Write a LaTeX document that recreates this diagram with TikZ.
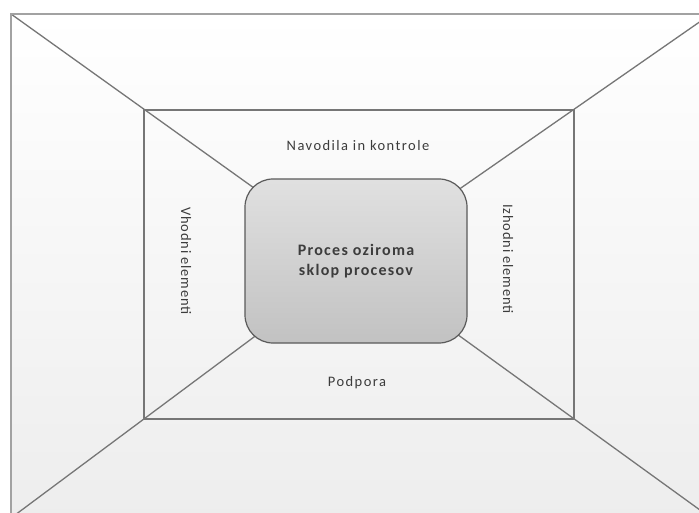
\documentclass[tikz,border=0pt]{standalone}
\usepackage{fontspec}
\setmainfont{Carlito}
\newfontfamily\widefont[LetterSpace=10]{Carlito}
\newfontfamily\sidefont[LetterSpace=6]{Carlito}
\newfontfamily\boldwide[LetterSpace=8]{Carlito}
\pgfdeclarelayer{back}
\pgfsetlayers{back,main}
\definecolor{framegray}{HTML}{A2A2A2}
\definecolor{linegray}{HTML}{767676}
\definecolor{boxedge}{HTML}{5A5A5A}
\definecolor{txtgray}{HTML}{3C3C3C}
\tikzset{
  frame/.style={draw=framegray, line width=2.4pt},
  innerline/.style={draw=linegray, line width=1.8pt},
  diag/.style={draw=linegray, line width=1.3pt},
  procbox/.style={draw=boxedge, line width=1.2pt, rounded corners=28pt,
    top color=black!12, bottom color=black!24,
    minimum width=222pt, minimum height=164pt, align=center,
    font=\boldwide\fontsize{16}{20}\selectfont\bfseries, text=txtgray},
  lbl/.style={font=\widefont\fontsize{14.5}{17}\selectfont, text=txtgray},
  sidelbl/.style={font=\sidefont\fontsize{14.5}{17}\selectfont, text=txtgray, rotate=-90}
}
\begin{document}
\begin{tikzpicture}[x=1pt,y=-1pt]
\useasboundingbox (0,0) rectangle (699,513);
\clip (0,0) rectangle (699,513);
% outer and inner corners of the room
\coordinate (oTL) at (11,14);
\coordinate (oTR) at (711,14);
\coordinate (oBL) at (11,518);
\coordinate (oBR) at (711,518);
\coordinate (iTL) at (144,110);
\coordinate (iBR) at (574,419);
% central process box
\node[procbox] (proc) at (356,261) {Proces oziroma\\sklop procesov};
\begin{pgfonlayer}{back}
  \fill[white] (0,0) rectangle (699,513);
  \path[top color=white, bottom color=black!7] (oTL) rectangle (oBR);
  \draw[diag] (oTL) -- (proc.center);
  \draw[diag] (oTR) -- (proc.center);
  \draw[diag] (oBL) -- (proc.center);
  \draw[diag] (oBR) -- (proc.center);
  \draw[innerline] (iTL) rectangle (iBR);
  \draw[frame] (oTL) rectangle (oBR);
\end{pgfonlayer}
% side labels
\node[lbl] (nav) at (358,146) {Navodila in kontrole};
\node[lbl] (pod) at (357,383) {Podpora};
\node[sidelbl] (vhod) at (186,261) {Vhodni elementi};
\node[sidelbl] (izhod) at (508,259) {Izhodni elementi};
\end{tikzpicture}
\end{document}
